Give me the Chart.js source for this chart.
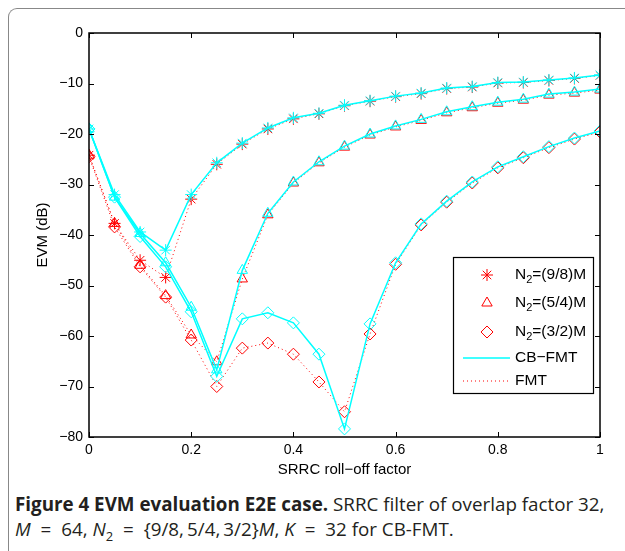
<!DOCTYPE html>
<html>
<head>
<meta charset="utf-8">
<script src="https://cdn.jsdelivr.net/npm/chart.js@4"></script>
<style>
  body { margin: 0; background: #fff; width: 625px; height: 551px; overflow: hidden; position: relative; }
  .frame { position: absolute; left: 8px; top: 8px; width: 700px; height: 700px;
           border-left: 1.5px solid #888; border-top: 1.5px solid #888; border-top-left-radius: 9px; }
  #wrap { position: absolute; left: 0; top: 0; width: 625px; height: 480px; }
  .caption { position: absolute; left: 15px; top: 492px; font-family: 'Open Sans', sans-serif;
             font-size: 18.8px; line-height: 25px; color: #231f20; white-space: nowrap; }
  .caption b { font-weight: 700; }
  .caption i { font-style: italic; }
  .caption .eq { margin: 0 5px; }
  .caption sub { font-size: 13px; }
</style>
</head>
<body>
<div class="frame"></div>
<div id="wrap"><canvas id="myChart"></canvas></div>
<div class="caption">
  <b>Figure 4 EVM evaluation E2E case.</b> SRRC filter of overlap factor 32,<br>
  <i>M</i> <span class="eq">=</span> 64, <i>N</i><sub>2</sub> <span class="eq">=</span> {9/8,&thinsp;5/4,&thinsp;3/2}<i>M</i>, <i>K</i> <span class="eq">=</span> 32 for CB-FMT.
</div>
<script>
// roll-off values (x axis)
const rolloff = [0, 0.05, 0.1, 0.15, 0.2, 0.25, 0.3, 0.35, 0.4, 0.45, 0.5,
  0.55, 0.6, 0.65, 0.7, 0.75, 0.8, 0.85, 0.9, 0.95, 1];

// EVM (dB), CB-FMT
const cb98 = [-19, -32, -39.4, -43, -32, -25.7, -21.8, -18.8, -16.8, -15.9, -14.3,
  -13.4, -12.5, -11.9, -10.9, -10.6, -9.8, -9.7, -9.3, -8.9, -8.3];
const cb54 = [-19, -32.5, -39.7, -45.5, -54.3, -66.7, -47, -35.7, -29.5, -25.5, -22.4,
  -20, -18.4, -17.1, -15.6, -14.6, -13.7, -13.1, -12.1, -11.7, -11.1];
const cb32 = [-19, -32.5, -40.3, -46.3, -55.2, -68, -56.6, -55.4, -57.4, -63.6, -78.4,
  -57.6, -45.5, -37.8, -33.3, -29.5, -26.5, -24.5, -22.5, -20.8, -19.4];

// EVM (dB), FMT
const fmt98 = [-24.2, -37.7, -45, -48.4, -32.9, -26, -22, -19, -17, -16, -14.4,
  -13.5, -12.6, -12, -11, -10.7, -9.9, -9.8, -9.4, -9, -8.4];
const fmt54 = [-24.2, -37.7, -46, -52, -59.8, -65.1, -48.7, -36, -29.7, -25.7, -22.6,
  -20.2, -18.6, -17.3, -15.8, -14.8, -13.9, -13.3, -12.3, -11.9, -11.3];
const fmt32 = [-24.5, -38.4, -46.3, -52.3, -60.8, -70, -62.4, -61.4, -63.6, -69.1, -75,
  -59.6, -45.8, -38, -33.5, -29.7, -26.7, -24.7, -22.7, -21, -19.6];

// ticks
const xTicks = [0, 0.2, 0.4, 0.6, 0.8, 1];
const xTickLabels = ['0', '0.2', '0.4', '0.6', '0.8', '1'];
const yTicks = [0, -10, -20, -30, -40, -50, -60, -70, -80];
const yTickLabels = ['0', '\u221210', '\u221220', '\u221230', '\u221240', '\u221250', '\u221260', '\u221270', '\u221280'];

const legendNames = ['=(9/8)M', '=(5/4)M', '=(3/2)M', 'CB\u2212FMT', 'FMT'];

const CYAN = '#00ffff';
const RED = '#ff0000';
const FONT = '"Liberation Sans", Arial, sans-serif';

const pts = (vals) => rolloff.map((x, i) => ({ x: x, y: vals[i] }));

const cbSet = (vals, style) => ({
  data: pts(vals),
  borderColor: CYAN,
  borderWidth: 1.5,
  pointStyle: style,
  pointRadius: 6,
  pointBorderColor: CYAN,
  pointBackgroundColor: 'rgba(0,0,0,0)',
  pointBorderWidth: 1,
  order: 0,
});
const fmtSet = (vals, style) => ({
  data: pts(vals),
  borderColor: RED,
  borderWidth: 1,
  borderDash: [1, 3],
  pointStyle: style,
  pointRadius: 6,
  pointBorderColor: RED,
  pointBackgroundColor: 'rgba(0,0,0,0)',
  pointBorderWidth: 1,
  order: 1,
});

// box, inward ticks and the matlab-like legend
const matlabAxes = {
  id: 'matlabAxes',
  afterDatasetsDraw(chart) {
    const { ctx, chartArea: a, scales } = chart;
    ctx.save();
    ctx.strokeStyle = '#000';
    ctx.lineWidth = 1.5;
    ctx.strokeRect(a.left, a.top, a.right - a.left, a.bottom - a.top);
    ctx.lineWidth = 1;
    ctx.beginPath();
    xTicks.forEach((v) => {
      const px = Math.round(scales.x.getPixelForValue(v)) + 0.5;
      ctx.moveTo(px, a.bottom); ctx.lineTo(px, a.bottom - 5);
      ctx.moveTo(px, a.top); ctx.lineTo(px, a.top + 5);
    });
    yTicks.forEach((v) => {
      const py = Math.round(scales.y.getPixelForValue(v)) + 0.5;
      ctx.moveTo(a.left, py); ctx.lineTo(a.left + 5, py);
      ctx.moveTo(a.right, py); ctx.lineTo(a.right - 5, py);
    });
    ctx.stroke();

    // legend
    const lx = 453, ly = 257, lw = 140, lh = 136;
    ctx.fillStyle = '#fff';
    ctx.fillRect(lx, ly, lw, lh);
    ctx.strokeStyle = '#000';
    ctx.lineWidth = 1.2;
    ctx.strokeRect(lx + 0.5, ly + 0.5, lw, lh);

    const rows = [275, 303, 332, 358, 381];
    const styles = ['star', 'triangle', 'rectRot'];
    ctx.textBaseline = 'middle';
    rows.forEach((ry, i) => {
      if (i < 3) {
        ctx.strokeStyle = RED;
        ctx.fillStyle = 'rgba(0,0,0,0)';
        ctx.lineWidth = 1;
        Chart.helpers.drawPoint(ctx, { pointStyle: styles[i], radius: 6, borderWidth: 1, rotation: 0 }, 487, ry);
        ctx.fillStyle = '#000';
        ctx.font = '15.5px ' + FONT;
        ctx.fillText('N', 515, ry);
        const nw = ctx.measureText('N').width;
        ctx.font = '11px ' + FONT;
        ctx.fillText('2', 515 + nw, ry + 5);
        const sw = ctx.measureText('2').width;
        ctx.font = '15.5px ' + FONT;
        ctx.fillText(legendNames[i], 515 + nw + sw, ry);
      } else {
        ctx.beginPath();
        if (i === 3) {
          ctx.strokeStyle = CYAN; ctx.lineWidth = 1.5; ctx.setLineDash([]);
        } else {
          ctx.strokeStyle = RED; ctx.lineWidth = 1; ctx.setLineDash([1, 3]);
        }
        ctx.moveTo(463, ry); ctx.lineTo(510, ry);
        ctx.stroke();
        ctx.setLineDash([]);
        ctx.fillStyle = '#000';
        ctx.font = '15.5px ' + FONT;
        ctx.fillText(legendNames[i], 515, ry);
      }
    });
    ctx.restore();
  },
};

Chart.defaults.font.family = FONT;
Chart.defaults.font.size = 14;
Chart.defaults.color = '#000';

const ctx = document.getElementById('myChart');
new Chart(ctx, {
  type: 'line',
  data: {
    datasets: [
      cbSet(cb98, 'star'), cbSet(cb54, 'triangle'), cbSet(cb32, 'rectRot'),
      fmtSet(fmt98, 'star'), fmtSet(fmt54, 'triangle'), fmtSet(fmt32, 'rectRot'),
    ],
  },
  plugins: [matlabAxes],
  options: {
    responsive: true,
    maintainAspectRatio: false,
    animation: false,
    layout: { padding: { top: 33, right: 25, bottom: 0, left: 0 } },
    plugins: { legend: { display: false }, tooltip: { enabled: false } },
    scales: {
      x: {
        type: 'linear',
        min: 0,
        max: 1,
        afterBuildTicks: (s) => { s.ticks = xTicks.map((v) => ({ value: v })); },
        afterFit: (s) => { s.height = 43; },
        grid: { display: false, drawTicks: false },
        border: { display: false },
        ticks: { padding: 5, maxRotation: 0, font: { size: 14 }, callback: (v) => xTickLabels[xTicks.indexOf(v)] },
        title: { display: true, text: 'SRRC roll\u2212off factor', font: { size: 15 }, padding: { top: 0, bottom: 1 } },
      },
      y: {
        min: -80,
        max: 0,
        afterBuildTicks: (s) => { s.ticks = yTicks.map((v) => ({ value: v })); },
        afterFit: (s) => { s.width = 89; },
        grid: { display: false, drawTicks: false },
        border: { display: false },
        ticks: { padding: 6, font: { size: 14 }, callback: (v) => yTickLabels[yTicks.indexOf(v)] },
        title: { display: true, text: 'EVM (dB)', font: { size: 15 }, padding: { top: 34, bottom: 0 } },
      },
    },
  },
});
</script>
</body>
</html>
